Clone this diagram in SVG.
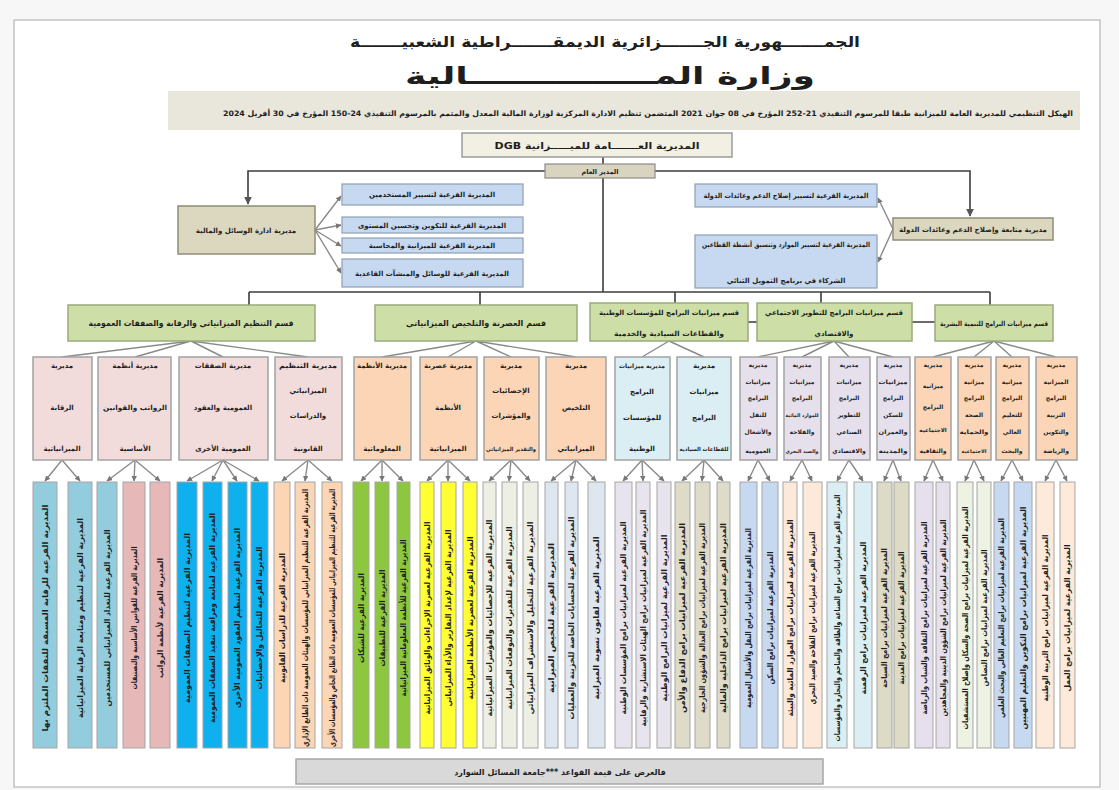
<svg xmlns="http://www.w3.org/2000/svg" width="1119" height="790" viewBox="0 0 1119 790">
<style>
text{font-family:"DejaVu Sans","Noto Sans",sans-serif;font-weight:bold;fill:#1e1e1e;direction:rtl;text-anchor:middle}
.mid{stroke:#a3a3a3;stroke-width:1.5}
.pink{fill:#f2dcdb}.org{fill:#fbd5b5}.lb{fill:#dbeef3}.lav{fill:#e5e0ec}
.sec{fill:#cddfa6;stroke:#9aaa7c;stroke-width:1.5}
.blu{fill:#c6d9f1;stroke:#8e9fb5;stroke-width:1.2}
.kh{fill:#dcd8bf;stroke:#8f8c78;stroke-width:1.5}
.leaf rect{stroke:#a6a6a6;stroke-width:1}
.lt{font-size:8px}
.mt{font-size:7px}
.st{font-size:8px}
.c1{fill:none;stroke:#3c3c3c;stroke-width:1.6}
.c2{fill:none;stroke:#8a8a8a;stroke-width:1.4}
</style>
<defs>
<marker id="ar" viewBox="0 0 6 6" refX="5.5" refY="3" markerWidth="5" markerHeight="5" orient="auto"><path d="M0,0 L6,3 L0,6 z" fill="#555"/></marker>
<marker id="ar2" viewBox="0 0 6 6" refX="5.5" refY="3" markerWidth="4" markerHeight="4" orient="auto"><path d="M0,0 L6,3 L0,6 z" fill="#777"/></marker>
</defs>
<rect x="0" y="0" width="1119" height="790" fill="#f7f7f7"/>
<rect x="14" y="20" width="1086" height="767" fill="#ffffff" stroke="#c4c4c4" stroke-width="1.5"/>

<g id="header">
<text x="605" y="47" style="font-size:15px" textLength="510" lengthAdjust="spacingAndGlyphs">الجمـــــــهورية الجـــــــزائرية الديمقـــــــراطية الشعبيـــــــة</text>
<text x="610" y="84" style="font-size:24px" textLength="410" lengthAdjust="spacingAndGlyphs">وزارة المـــــــــــــــالية</text>
<rect x="168" y="91" width="912" height="39" fill="#e9e6dc"/>
<text x="648" y="116" style="font-size:7.5px" textLength="850" lengthAdjust="spacingAndGlyphs">الهيكل التنظيمي للمديرية العامة للميزانية طبقا للمرسوم التنفيذي 21-252 المؤرخ في 08 جوان 2021 المتضمن تنظيم الادارة المركزية لوزارة المالية المعدل والمتمم بالمرسوم التنفيذي 24-150 المؤرخ في 30 أفريل 2024</text>
</g>

<g id="connectors">
<path class="c1" d="M603,157 V164"/>
<path class="c1" d="M545,171 H248 V204" marker-end="url(#ar)"/>
<path class="c1" d="M655,171 H970 V216" marker-end="url(#ar)"/>
<path class="c1" d="M603,178 V292"/>
<path class="c1" d="M249,292 H990"/>
<path class="c1" d="M249,292 V305 M480,292 V305 M675,292 V303 M821,292 V303 M990,292 V305"/>
<path class="c1" d="M748,322 H757 M912,322 H935"/>
<g class="c2">
<path d="M315,230 L341,196" marker-end="url(#ar2)"/>
<path d="M315,230 L341,225" marker-end="url(#ar2)"/>
<path d="M315,230 L341,246" marker-end="url(#ar2)"/>
<path d="M315,230 L341,273" marker-end="url(#ar2)"/>
<path d="M893,229 L878,198" marker-end="url(#ar2)"/>
<path d="M893,229 L878,262" marker-end="url(#ar2)"/>
<path d="M191,341 L62,357 M191,341 L135,357 M191,341 L223,357 M191,341 L308,357"/>
<path d="M476,341 L382,357 M476,341 L448,357 M476,341 L511,357 M476,341 L576,357"/>
<path d="M669,341 L642,357 M669,341 L704,357"/>
<path d="M834,341 L758,357 M834,341 L802,357 M834,341 L849,357 M834,341 L893,357"/>
<path d="M994,341 L933,357 M994,341 L974,357 M994,341 L1012,357 M994,341 L1056,357"/>
</g>
<g class="c2" marker-end="url(#ar2)">
<path d="M62,460 L45,481"/><path d="M62,460 L80,481"/>
<path d="M135,460 L107,481"/><path d="M135,460 L134,481"/><path d="M135,460 L160,481"/>
<path d="M223,460 L187,481"/><path d="M223,460 L212,481"/><path d="M223,460 L237,481"/><path d="M223,460 L259,481"/>
<path d="M308,460 L282,481"/><path d="M308,460 L305,481"/><path d="M308,460 L332,481"/>
<path d="M382,460 L361,481"/><path d="M382,460 L382,481"/><path d="M382,460 L403,481"/>
<path d="M448,460 L427,481"/><path d="M448,460 L448,481"/><path d="M448,460 L470,481"/>
<path d="M511,460 L489,481"/><path d="M511,460 L509,481"/><path d="M511,460 L530,481"/>
<path d="M576,460 L551,481"/><path d="M576,460 L571,481"/><path d="M576,460 L596,481"/>
<path d="M642,460 L623,481"/><path d="M642,460 L643,481"/><path d="M642,460 L664,481"/>
<path d="M704,460 L682,481"/><path d="M704,460 L702,481"/><path d="M704,460 L723,481"/>
<path d="M758,460 L748,481"/><path d="M758,460 L770,481"/>
<path d="M802,460 L790,481"/><path d="M802,460 L812,481"/>
<path d="M849,460 L837,481"/><path d="M849,460 L863,481"/>
<path d="M893,460 L884,481"/><path d="M893,460 L901,481"/>
<path d="M933,460 L924,481"/><path d="M933,460 L943,481"/>
<path d="M974,460 L965,481"/><path d="M974,460 L984,481"/>
<path d="M1012,460 L1001,481"/><path d="M1012,460 L1023,481"/>
<path d="M1056,460 L1045,481"/><path d="M1056,460 L1067,481"/>
</g>
</g>

<g id="dgb"><rect x="462" y="133" width="270" height="24" fill="#f1f0e3" stroke="#9c9c9c" stroke-width="1.5"/><text x="597" y="149" style="font-size:9px" textLength="205" lengthAdjust="spacingAndGlyphs">المديرية العـــــــامة للميـــــزانية DGB</text></g>
<g id="dg"><rect x="545" y="164" width="110" height="14" fill="#d9d4c0" stroke="#8a8a8a" stroke-width="1.2"/><text x="600" y="174" style="font-size:6.5px">المدير العام</text></g>

<g id="dam"><rect class="kh" x="178" y="206" width="137" height="48"/><text x="246" y="233" class="mt">مديرية ادارة الوسائل والمالية</text></g>
<g id="sd-l1"><rect class="blu" x="342" y="184" width="181" height="21"/><text x="432" y="197" class="mt">المديرية الفرعية لتسيير المستخدمين</text></g>
<g id="sd-l2"><rect class="blu" x="342" y="217" width="181" height="16"/><text x="432" y="228" class="mt">المديرية الفرعية للتكوين وتحسين المستوى</text></g>
<g id="sd-l3"><rect class="blu" x="342" y="238" width="181" height="15"/><text x="432" y="248" class="mt">المديرية الفرعية للميزانية والمحاسبة</text></g>
<g id="sd-l4"><rect class="blu" x="342" y="259" width="181" height="28"/><text x="432" y="276" class="mt">المديرية الفرعية للوسائل والمنشآت القاعدية</text></g>

<g id="dsr"><rect class="kh" x="893" y="218" width="160" height="22"/><text x="973" y="232" class="mt" textLength="148" lengthAdjust="spacingAndGlyphs">مديرية متابعة وإصلاح الدعم وعائدات الدولة</text></g>
<g id="sd-r1"><rect class="blu" x="695" y="184" width="182" height="23"/><text x="786" y="198" class="mt" textLength="165" lengthAdjust="spacingAndGlyphs">المديرية الفرعية لتسيير إصلاح الدعم وعائدات الدولة</text></g>
<g id="sd-r2"><rect class="blu" x="695" y="235" width="182" height="53"/><text x="786" y="247" class="mt" textLength="168" lengthAdjust="spacingAndGlyphs">المديرية الفرعية لتسيير الموارد وتنسيق أنشطة القطاعين</text><text x="786" y="283" class="mt">الشركاء في برنامج التمويل الثنائي</text></g>

<g id="s1"><rect class="sec" x="68" y="305" width="247" height="36"/><text x="191" y="326" class="st" textLength="205" lengthAdjust="spacingAndGlyphs">قسم التنظيم الميزانياتي والرقابة والصفقات العمومية</text></g>
<g id="s2"><rect class="sec" x="375" y="305" width="202" height="36"/><text x="476" y="326" class="st" textLength="140" lengthAdjust="spacingAndGlyphs">قسم العصرنة والتلخيص الميزانياتي</text></g>
<g id="s3"><rect class="sec" x="590" y="303" width="158" height="38"/><text x="669" y="315" class="mt" textLength="140" lengthAdjust="spacingAndGlyphs">قسم ميزانيات البرامج للمؤسسات الوطنية</text><text x="669" y="336" class="mt" textLength="110" lengthAdjust="spacingAndGlyphs">والقطاعات السيادية والخدمية</text></g>
<g id="s4"><rect class="sec" x="757" y="303" width="155" height="38"/><text x="834" y="315" class="mt" textLength="138" lengthAdjust="spacingAndGlyphs">قسم ميزانيات البرامج للتطوير الاجتماعي</text><text x="834" y="336" class="mt">والاقتصادي</text></g>
<g id="s5"><rect class="sec" x="935" y="305" width="118" height="36"/><text x="994" y="326" class="mt" textLength="108" lengthAdjust="spacingAndGlyphs">قسم ميزانيات البرامج للتنمية البشرية</text></g>

<g id="m-a"><rect class="mid pink" x="33" y="357" width="59" height="103"/><text x="62" y="368" class="mt">مديرية</text><text x="62" y="410" class="mt">الرقابة</text><text x="62" y="451" class="mt">الميزانياتية</text></g>
<g id="m-b"><rect class="mid pink" x="98" y="357" width="73" height="103"/><text x="135" y="368" class="mt">مديرية أنظمة</text><text x="135" y="410" class="mt" textLength="64" lengthAdjust="spacingAndGlyphs">الرواتب والقوانين</text><text x="135" y="451" class="mt">الأساسية</text></g>
<g id="m-c"><rect class="mid pink" x="179" y="357" width="89" height="103"/><text x="223" y="368" class="mt">مديرية الصفقات</text><text x="223" y="410" class="mt">العمومية والعقود</text><text x="223" y="451" class="mt">العمومية الأخرى</text></g>
<g id="m-d"><rect class="mid pink" x="275" y="357" width="67" height="103"/><text x="308" y="368" class="mt" textLength="58" lengthAdjust="spacingAndGlyphs">مديرية التنظيم</text><text x="308" y="393" class="mt">الميزانياتي</text><text x="308" y="418" class="mt">والدراسات</text><text x="308" y="451" class="mt">القانونية</text></g>
<g id="m-e"><rect class="mid org" x="354" y="357" width="57" height="103"/><text x="382" y="368" class="mt" textLength="50" lengthAdjust="spacingAndGlyphs">مديرية الأنظمة</text><text x="382" y="451" class="mt">المعلوماتية</text></g>
<g id="m-f"><rect class="mid org" x="420" y="357" width="57" height="103"/><text x="448" y="368" class="mt" textLength="48" lengthAdjust="spacingAndGlyphs">مديرية عصرنة</text><text x="448" y="410" class="mt">الأنظمة</text><text x="448" y="451" class="mt">الميزانياتية</text></g>
<g id="m-g"><rect class="mid org" x="484" y="357" width="55" height="103"/><text x="511" y="368" class="mt">مديرية</text><text x="511" y="393" class="mt">الإحصائيات</text><text x="511" y="418" class="mt">والمؤشرات</text><text x="511" y="451" style="font-size:5.5px" textLength="50" lengthAdjust="spacingAndGlyphs">والتقدير الميزانياتي</text></g>
<g id="m-h"><rect class="mid org" x="546" y="357" width="60" height="103"/><text x="576" y="368" class="mt">مديرية</text><text x="576" y="410" class="mt">التلخيص</text><text x="576" y="451" class="mt">الميزانياتي</text></g>
<g id="m-i"><rect class="mid lb" x="615" y="357" width="55" height="103"/><text x="642" y="368" style="font-size:6px">مديرية ميزانيات</text><text x="642" y="394" class="mt">البرامج</text><text x="642" y="420" class="mt">للمؤسسات</text><text x="642" y="451" class="mt">الوطنية</text></g>
<g id="m-j"><rect class="mid lb" x="677" y="357" width="54" height="103"/><text x="704" y="368" class="mt">مديرية</text><text x="704" y="394" class="mt">ميزانيات</text><text x="704" y="420" class="mt">البرامج</text><text x="704" y="451" style="font-size:5.5px" textLength="49" lengthAdjust="spacingAndGlyphs">للقطاعات السيادية</text></g>
<g id="m-k"><rect class="mid lav" x="740" y="357" width="37" height="103"/><text x="758" y="367" style="font-size:6px">مديرية</text><text x="758" y="384" style="font-size:6px">ميزانيات</text><text x="758" y="400" style="font-size:6px">البرامج</text><text x="758" y="417" style="font-size:6px">للنقل</text><text x="758" y="434" style="font-size:6px">والأشغال</text><text x="758" y="453" style="font-size:6px">العمومية</text></g>
<g id="m-l"><rect class="mid lav" x="784" y="357" width="37" height="103"/><text x="802" y="367" style="font-size:6px">مديرية</text><text x="802" y="384" style="font-size:6px">ميزانيات</text><text x="802" y="400" style="font-size:6px">البرامج</text><text x="802" y="417" style="font-size:5px" textLength="33" lengthAdjust="spacingAndGlyphs">للموارد المائية</text><text x="802" y="434" style="font-size:6px">والفلاحة</text><text x="802" y="453" style="font-size:5px" textLength="33" lengthAdjust="spacingAndGlyphs">والصيد البحري</text></g>
<g id="m-m"><rect class="mid lav" x="829" y="357" width="41" height="103"/><text x="849" y="367" style="font-size:6px">مديرية</text><text x="849" y="384" style="font-size:6px">ميزانيات</text><text x="849" y="400" style="font-size:6px">البرامج</text><text x="849" y="417" style="font-size:6px">للتطوير</text><text x="849" y="434" style="font-size:6px">الصناعي</text><text x="849" y="453" style="font-size:6px">والاقتصادي</text></g>
<g id="m-n"><rect class="mid lav" x="877" y="357" width="33" height="103"/><text x="893" y="367" style="font-size:6px">مديرية</text><text x="893" y="384" style="font-size:6px" textLength="29" lengthAdjust="spacingAndGlyphs">ميزانيات</text><text x="893" y="400" style="font-size:6px">البرامج</text><text x="893" y="417" style="font-size:6px">للسكن</text><text x="893" y="434" style="font-size:6px" textLength="29" lengthAdjust="spacingAndGlyphs">والعمران</text><text x="893" y="453" style="font-size:6px" textLength="29" lengthAdjust="spacingAndGlyphs">والمدينة</text></g>
<g id="m-o"><rect class="mid org" x="915" y="357" width="36" height="103"/><text x="933" y="367" style="font-size:6px">مديرية</text><text x="933" y="388" style="font-size:6px">ميزانية</text><text x="933" y="409" style="font-size:6px">البرامج</text><text x="933" y="432" style="font-size:5.5px">الاجتماعية</text><text x="933" y="453" style="font-size:6px">والثقافية</text></g>
<g id="m-p"><rect class="mid org" x="958" y="357" width="33" height="103"/><text x="974" y="367" style="font-size:6px">مديرية</text><text x="974" y="384" style="font-size:6px">ميزانية</text><text x="974" y="400" style="font-size:6px">البرامج</text><text x="974" y="417" style="font-size:6px">الصحة</text><text x="974" y="434" style="font-size:6px" textLength="29" lengthAdjust="spacingAndGlyphs">والحماية</text><text x="974" y="453" style="font-size:5px">الاجتماعية</text></g>
<g id="m-q"><rect class="mid org" x="996" y="357" width="33" height="103"/><text x="1012" y="367" style="font-size:6px">مديرية</text><text x="1012" y="384" style="font-size:6px">ميزانية</text><text x="1012" y="400" style="font-size:6px">البرامج</text><text x="1012" y="417" style="font-size:6px">للتعليم</text><text x="1012" y="434" style="font-size:6px">العالي</text><text x="1012" y="453" style="font-size:6px">والبحث</text></g>
<g id="m-r"><rect class="mid org" x="1036" y="357" width="41" height="103"/><text x="1056" y="367" style="font-size:6px">مديرية</text><text x="1056" y="384" style="font-size:6px">الميزانية</text><text x="1056" y="400" style="font-size:6px">البرامج</text><text x="1056" y="417" style="font-size:6px">التربية</text><text x="1056" y="434" style="font-size:6px">والتكوين</text><text x="1056" y="453" style="font-size:6px">والرياضة</text></g>

<g class="leaf">
<g id="l1"><rect x="33" y="482" width="24" height="266" fill="#93cddd"/><text class="lt" transform="translate(45,618) rotate(-90)" y="3" textLength="227" lengthAdjust="spacingAndGlyphs">المديرية الفرعية للرقابة المسبقة للنفقات الملتزم بها</text></g>
<g id="l2"><rect x="68" y="482" width="24" height="266" fill="#93cddd"/><text class="lt" transform="translate(80,618) rotate(-90)" y="3" textLength="200" lengthAdjust="spacingAndGlyphs">المديرية الفرعية لتنظيم ومتابعة الرقابة الميزانياتية</text></g>
<g id="l3"><rect x="97" y="482" width="20" height="266" fill="#93cddd"/><text class="lt" transform="translate(107,618) rotate(-90)" y="3" textLength="177" lengthAdjust="spacingAndGlyphs">المديرية الفرعية للتعداد الميزانياتي للمستخدمين</text></g>
<g id="l4"><rect x="123" y="482" width="22" height="266" fill="#e6b9b8"/><text class="lt" transform="translate(134,618) rotate(-90)" y="3" textLength="143" lengthAdjust="spacingAndGlyphs">المديرية الفرعية للقوانين الأساسية والتصنيفات</text></g>
<g id="l5"><rect x="150" y="482" width="20" height="266" fill="#e6b9b8"/><text class="lt" transform="translate(160,618) rotate(-90)" y="3" textLength="120" lengthAdjust="spacingAndGlyphs">المديرية الفرعية لأنظمة الرواتب</text></g>
<g id="l6"><rect x="177" y="482" width="20" height="266" fill="#0fb0ee"/><text class="lt" transform="translate(187,618) rotate(-90)" y="3" textLength="170" lengthAdjust="spacingAndGlyphs">المديرية الفرعية لتنظيم الصفقات العمومية</text></g>
<g id="l7"><rect x="203" y="482" width="19" height="266" fill="#0fb0ee"/><text class="lt" transform="translate(212,618) rotate(-90)" y="3" textLength="210" lengthAdjust="spacingAndGlyphs">المديرية الفرعية لمتابعة ومراقبة تنفيذ الصفقات العمومية</text></g>
<g id="l8"><rect x="228" y="482" width="19" height="266" fill="#0fb0ee"/><text class="lt" transform="translate(237,618) rotate(-90)" y="3" textLength="180" lengthAdjust="spacingAndGlyphs">المديرية الفرعية لتنظيم العقود العمومية الأخرى</text></g>
<g id="l9"><rect x="251" y="482" width="17" height="266" fill="#0fb0ee"/><text class="lt" transform="translate(259,618) rotate(-90)" y="3" textLength="143" lengthAdjust="spacingAndGlyphs">المديرية الفرعية للتحاليل والإحصائيات</text></g>
<g id="l10"><rect x="274" y="482" width="16" height="266" fill="#fcd5b5"/><text class="lt" transform="translate(282,618) rotate(-90)" y="3" textLength="130" lengthAdjust="spacingAndGlyphs">المديرية الفرعية للدراسات القانونية</text></g>
<g id="l11"><rect x="295" y="482" width="20" height="266" fill="#fcd5b5"/><text class="lt" transform="translate(305,618) rotate(-90)" y="3" textLength="258" lengthAdjust="spacingAndGlyphs">المديرية الفرعية للتنظيم الميزانياتي للمؤسسات والهيئات العمومية ذات الطابع الإداري</text></g>
<g id="l12"><rect x="322" y="482" width="20" height="266" fill="#fcd5b5"/><text class="lt" transform="translate(332,618) rotate(-90)" y="3" textLength="258" lengthAdjust="spacingAndGlyphs">المديرية الفرعية للتنظيم الميزانياتي للمؤسسات العمومية ذات الطابع الخاص والمؤسسات الأخرى</text></g>
<g id="l13"><rect x="353" y="482" width="16" height="266" fill="#8dc63f"/><text class="lt" transform="translate(361,618) rotate(-90)" y="3" textLength="90" lengthAdjust="spacingAndGlyphs">المديرية الفرعية للشبكات</text></g>
<g id="l14"><rect x="375" y="482" width="14" height="266" fill="#8dc63f"/><text class="lt" transform="translate(382,618) rotate(-90)" y="3" textLength="97" lengthAdjust="spacingAndGlyphs">المديرية الفرعية للتطبيقات</text></g>
<g id="l15"><rect x="397" y="482" width="13" height="266" fill="#8dc63f"/><text class="lt" transform="translate(403,618) rotate(-90)" y="3" textLength="157" lengthAdjust="spacingAndGlyphs">المديرية الفرعية للأنظمة المعلوماتية الميزانياتية</text></g>
<g id="l16"><rect x="420" y="482" width="14" height="266" fill="#ffff33"/><text class="lt" transform="translate(427,618) rotate(-90)" y="3" textLength="193" lengthAdjust="spacingAndGlyphs">المديرية الفرعية لعصرنة الإجراءات والوثائق الميزانياتية</text></g>
<g id="l17"><rect x="441" y="482" width="15" height="266" fill="#ffff33"/><text class="lt" transform="translate(448,618) rotate(-90)" y="3" textLength="177" lengthAdjust="spacingAndGlyphs">المديرية الفرعية لإعداد التقارير والأداء الميزانياتي</text></g>
<g id="l18"><rect x="463" y="482" width="14" height="266" fill="#ffff33"/><text class="lt" transform="translate(470,618) rotate(-90)" y="3" textLength="163" lengthAdjust="spacingAndGlyphs">المديرية الفرعية لعصرنة الأنظمة الميزانياتية</text></g>
<g id="l19"><rect x="483" y="482" width="13" height="266" fill="#eeefe4"/><text class="lt" transform="translate(489,618) rotate(-90)" y="3" textLength="197" lengthAdjust="spacingAndGlyphs">المديرية الفرعية للإحصائيات والمؤشرات الميزانياتية</text></g>
<g id="l20"><rect x="502" y="482" width="15" height="266" fill="#eeefe4"/><text class="lt" transform="translate(509,618) rotate(-90)" y="3" textLength="183" lengthAdjust="spacingAndGlyphs">المديرية الفرعية للتقديرات والتوقعات الميزانياتية</text></g>
<g id="l21"><rect x="523" y="482" width="15" height="266" fill="#eeefe4"/><text class="lt" transform="translate(530,618) rotate(-90)" y="3" textLength="193" lengthAdjust="spacingAndGlyphs">المديرية الفرعية للتحليل والاستشراف الميزانياتي</text></g>
<g id="l22"><rect x="545" y="482" width="13" height="266" fill="#dee6ef"/><text class="lt" transform="translate(551,618) rotate(-90)" y="3" textLength="150" lengthAdjust="spacingAndGlyphs">المديرية الفرعية لتلخيص الميزانية</text></g>
<g id="l23"><rect x="565" y="482" width="13" height="266" fill="#dee6ef"/><text class="lt" transform="translate(571,618) rotate(-90)" y="3" textLength="203" lengthAdjust="spacingAndGlyphs">المديرية الفرعية للحسابات الخاصة للخزينة والعمليات</text></g>
<g id="l24"><rect x="588" y="482" width="17" height="266" fill="#dee6ef"/><text class="lt" transform="translate(596,618) rotate(-90)" y="3" textLength="163" lengthAdjust="spacingAndGlyphs">المديرية الفرعية لقانون تسوية الميزانية</text></g>
<g id="l25"><rect x="615" y="482" width="17" height="266" fill="#e8e4ee"/><text class="lt" transform="translate(623,618) rotate(-90)" y="3" textLength="193" lengthAdjust="spacingAndGlyphs">المديرية الفرعية لميزانيات برامج المؤسسات الوطنية</text></g>
<g id="l26"><rect x="636" y="482" width="14" height="266" fill="#e8e4ee"/><text class="lt" transform="translate(643,618) rotate(-90)" y="3" textLength="217" lengthAdjust="spacingAndGlyphs">المديرية الفرعية لميزانيات برامج الهيئات الاستشارية والرقابية</text></g>
<g id="l27"><rect x="657" y="482" width="14" height="266" fill="#e8e4ee"/><text class="lt" transform="translate(664,618) rotate(-90)" y="3" textLength="167" lengthAdjust="spacingAndGlyphs">المديرية الفرعية لميزانيات البرامج الوطنية</text></g>
<g id="l28"><rect x="675" y="482" width="15" height="266" fill="#dedbc8"/><text class="lt" transform="translate(682,618) rotate(-90)" y="3" textLength="190" lengthAdjust="spacingAndGlyphs">المديرية الفرعية لميزانيات برامج الدفاع والأمن</text></g>
<g id="l29"><rect x="695" y="482" width="15" height="266" fill="#dedbc8"/><text class="lt" transform="translate(702,618) rotate(-90)" y="3" textLength="190" lengthAdjust="spacingAndGlyphs">المديرية الفرعية لميزانيات برامج العدالة والشؤون الخارجية</text></g>
<g id="l30"><rect x="717" y="482" width="13" height="266" fill="#dedbc8"/><text class="lt" transform="translate(723,618) rotate(-90)" y="3" textLength="190" lengthAdjust="spacingAndGlyphs">المديرية الفرعية لميزانيات برامج الداخلية والمالية</text></g>
<g id="l31"><rect x="740" y="482" width="17" height="266" fill="#c6d9f1"/><text class="lt" transform="translate(748,618) rotate(-90)" y="3" textLength="180" lengthAdjust="spacingAndGlyphs">المديرية الفرعية لميزانيات برامج النقل والأشغال العمومية</text></g>
<g id="l32"><rect x="762" y="482" width="16" height="266" fill="#c6d9f1"/><text class="lt" transform="translate(770,618) rotate(-90)" y="3" textLength="133" lengthAdjust="spacingAndGlyphs">المديرية الفرعية لميزانيات برامج السكن</text></g>
<g id="l33"><rect x="783" y="482" width="14" height="266" fill="#fde9d9"/><text class="lt" transform="translate(790,618) rotate(-90)" y="3" textLength="197" lengthAdjust="spacingAndGlyphs">المديرية الفرعية لميزانيات برامج الموارد المائية والبيئة</text></g>
<g id="l34"><rect x="803" y="482" width="19" height="266" fill="#fde9d9"/><text class="lt" transform="translate(812,618) rotate(-90)" y="3" textLength="173" lengthAdjust="spacingAndGlyphs">المديرية الفرعية لميزانيات برامج الفلاحة والصيد البحري</text></g>
<g id="l35"><rect x="827" y="482" width="20" height="266" fill="#dbeef4"/><text class="lt" transform="translate(837,618) rotate(-90)" y="3" textLength="247" lengthAdjust="spacingAndGlyphs">المديرية الفرعية لميزانيات برامج الصناعة والطاقة والمناجم والتجارة والمؤسسات</text></g>
<g id="l36"><rect x="854" y="482" width="18" height="266" fill="#dbeef4"/><text class="lt" transform="translate(863,618) rotate(-90)" y="3" textLength="153" lengthAdjust="spacingAndGlyphs">المديرية الفرعية لميزانيات برامج الرقمنة</text></g>
<g id="l37"><rect x="877" y="482" width="15" height="266" fill="#dddac5"/><text class="lt" transform="translate(884,618) rotate(-90)" y="3" textLength="140" lengthAdjust="spacingAndGlyphs">المديرية الفرعية لميزانيات برامج السياحة</text></g>
<g id="l38"><rect x="894" y="482" width="15" height="266" fill="#dddac5"/><text class="lt" transform="translate(901,618) rotate(-90)" y="3" textLength="133" lengthAdjust="spacingAndGlyphs">المديرية الفرعية لميزانيات برامج المدينة</text></g>
<g id="l39"><rect x="915" y="482" width="18" height="266" fill="#e5e0ec"/><text class="lt" transform="translate(924,618) rotate(-90)" y="3" textLength="193" lengthAdjust="spacingAndGlyphs">المديرية الفرعية لميزانيات برامج الثقافة والشباب والرياضة</text></g>
<g id="l40"><rect x="936" y="482" width="14" height="266" fill="#e5e0ec"/><text class="lt" transform="translate(943,618) rotate(-90)" y="3" textLength="197" lengthAdjust="spacingAndGlyphs">المديرية الفرعية لميزانيات برامج الشؤون الدينية والمجاهدين</text></g>
<g id="l41"><rect x="957" y="482" width="16" height="266" fill="#eef2e2"/><text class="lt" transform="translate(965,618) rotate(-90)" y="3" textLength="223" lengthAdjust="spacingAndGlyphs">المديرية الفرعية لميزانيات برامج الصحة والسكان وإصلاح المستشفيات</text></g>
<g id="l42"><rect x="977" y="482" width="14" height="266" fill="#eef2e2"/><text class="lt" transform="translate(984,618) rotate(-90)" y="3" textLength="137" lengthAdjust="spacingAndGlyphs">المديرية الفرعية لميزانيات برامج التضامن</text></g>
<g id="l43"><rect x="994" y="482" width="15" height="266" fill="#c6d9f1"/><text class="lt" transform="translate(1001,618) rotate(-90)" y="3" textLength="200" lengthAdjust="spacingAndGlyphs">المديرية الفرعية لميزانيات برامج التعليم العالي والبحث العلمي</text></g>
<g id="l44"><rect x="1014" y="482" width="18" height="266" fill="#c6d9f1"/><text class="lt" transform="translate(1023,618) rotate(-90)" y="3" textLength="223" lengthAdjust="spacingAndGlyphs">المديرية الفرعية لميزانيات برامج التكوين والتعليم المهنيين</text></g>
<g id="l45"><rect x="1036" y="482" width="18" height="266" fill="#fdeada"/><text class="lt" transform="translate(1045,618) rotate(-90)" y="3" textLength="167" lengthAdjust="spacingAndGlyphs">المديرية الفرعية لميزانيات برامج التربية الوطنية</text></g>
<g id="l46"><rect x="1060" y="482" width="15" height="266" fill="#fdeada"/><text class="lt" transform="translate(1067,618) rotate(-90)" y="3" textLength="147" lengthAdjust="spacingAndGlyphs">المديرية الفرعية لميزانيات برامج العمل</text></g>
</g>

<g id="footer"><rect x="296" y="759" width="527" height="25" fill="#d9d9d9" stroke="#a6a6a6" stroke-width="1.5"/><text x="560" y="775" style="font-size:8px">فالعرض على قيمة القواعد ***جامعة المسائل الشوارد</text></g>
</svg>
